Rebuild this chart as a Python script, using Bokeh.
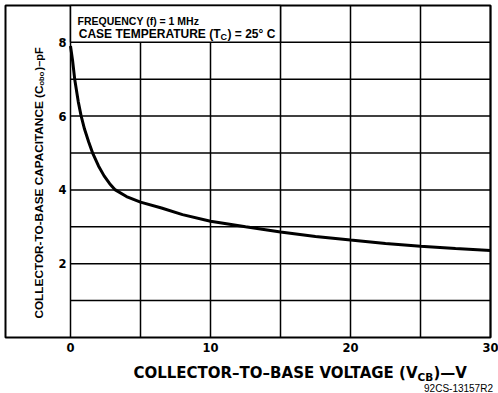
import math
from bokeh.plotting import figure
from bokeh.models import Range1d, Label, ColumnDataSource
from bokeh.core.properties import value
from bokeh.embed import file_html
from bokeh.resources import INLINE

# ---- data ----
vcb = [0, 0.15, 0.3, 0.55, 0.75, 1.0, 1.3, 1.6, 2.0, 2.4, 2.8, 3.2, 4.0, 5.0,
       6.5, 8.0, 10, 12.5, 15, 17.5, 20, 22.5, 25, 27.5, 30]
cobo = [7.9, 7.5, 7.0, 6.4, 6.02, 5.65, 5.3, 4.98, 4.65, 4.38, 4.17, 4.0, 3.82, 3.67,
        3.51, 3.33, 3.15, 3.0, 2.86, 2.74, 2.64, 2.55, 2.47, 2.41, 2.36]

x_ticks = [0, 10, 20, 30]
x_tick_labels = ["0", "10", "20", "30"]
x_grid = [0, 5, 10, 15, 20, 25, 30]
y_grid = [1, 2, 3, 4, 5, 6, 7, 8]
y_tick_values = [2, 4, 6, 8]
y_tick_labels = ["2", "4", "6", "8"]
box_x = [0, 15]

X_MIN, X_MAX = 0, 30
Y_MIN, Y_BOX = 0, 8

# ---- layout: page-pixel helpers (frame fills the whole figure) ----
PX0, PX_PER = 70.0, 14.0       # page x of V=0, px per volt
PY0, PY_PER = 337.0, 36.9      # page y of C=0, px per pF
def dx(px):
    return (px - PX0) / PX_PER
def dy(py):
    return (PY0 - py) / PY_PER

W, H = 498, 393
X_LO, X_HI = dx(0), dx(W)
Y_LO, Y_HI = dy(H), dy(0)
BOX_LEFT = dx(5)
BOX_TOP = dy(5)

p = figure(width=W, height=H, output_backend="svg", toolbar_location=None,
           x_range=Range1d(X_LO, X_HI), y_range=Range1d(Y_LO, Y_HI),
           x_axis_location=None, y_axis_location=None, min_border=0)
p.background_fill_color = "white"
p.border_fill_color = "white"
p.outline_line_color = None
p.xgrid.visible = False
p.ygrid.visible = False

# outer frame
p.quad(left=[BOX_LEFT], right=[X_MAX], bottom=[Y_MIN], top=[BOX_TOP],
       fill_color=None, line_color="black", line_width=2)

# grid lines
p.segment(x0=x_grid, y0=[Y_MIN] * len(x_grid), x1=x_grid, y1=[BOX_TOP] * len(x_grid),
          line_color="black", line_width=1.5)
p.segment(x0=[X_MIN] * len(y_grid), y0=y_grid, x1=[X_MAX] * len(y_grid), y1=y_grid,
          line_color="black", line_width=1.5)

# condition box
p.quad(left=[box_x[0]], right=[box_x[1]], bottom=[Y_BOX], top=[BOX_TOP],
       fill_color="white", line_color="black", line_width=1.5)

# curve
p.line(vcb, cobo, line_color="black", line_width=3)

# tick labels
ysrc = ColumnDataSource(dict(x=[X_MIN] * len(y_tick_values), y=y_tick_values, t=y_tick_labels))
p.text(x="x", y="y", text="t", source=ysrc, x_offset=-4, text_align="right",
       text_baseline="middle", text_font=value("DejaVu Sans"), text_font_style="bold",
       text_font_size="11.5px", text_color="black")
xsrc = ColumnDataSource(dict(x=x_ticks, y=[dy(347)] * len(x_ticks), t=x_tick_labels))
p.text(x="x", y="y", text="t", source=xsrc, text_align="center",
       text_baseline="middle", text_font=value("DejaVu Sans"), text_font_style="bold",
       text_font_size="11.5px", text_color="black")

def lab(text, px, py, size, font="DejaVu Sans", style="bold", align="left",
        baseline="alphabetic", angle=0):
    p.add_layout(Label(x=dx(px), y=dy(py), text=text, text_font=font,
                       text_font_style=style, text_font_size=size, text_align=align,
                       text_baseline=baseline, angle=angle, text_color="black"))

# x axis title with subscript
lab("COLLECTOR\u2013TO\u2013BASE VOLTAGE (V", 417, 372, "15px", align="right")
lab("CB", 417, 376, "10.5px")
lab(")\u2014V", 433, 372, "15px")

# y axis title (rotated) with subscript
A = math.pi / 2
lab("COLLECTOR-TO-BASE CAPACITANCE (C", 38, 85, "11.8px", font="Liberation Sans",
    align="right", baseline="middle", angle=A)
lab("obo", 41, 85, "7.5px", font="Liberation Sans", baseline="middle", angle=A)
lab(")\u2013pF", 38, 70, "11px", font="Liberation Sans", baseline="middle", angle=A)

# conditions text
lab("FREQUENCY (f) = 1 MHz", 77, 20, "10.5px", font="Liberation Sans")
lab("CASE TEMPERATURE (T", 220, 33, "12px", font="Liberation Sans", align="right")
lab("C", 220, 36, "9px", font="Liberation Sans")
lab(") = 25\u00b0 C", 227, 33, "12px", font="Liberation Sans")

# figure code
lab("92CS-13157R2", 458, 388, "10px", font="Liberation Sans", style="normal", align="center")

open("out.html", "w").write(file_html(p, INLINE))
